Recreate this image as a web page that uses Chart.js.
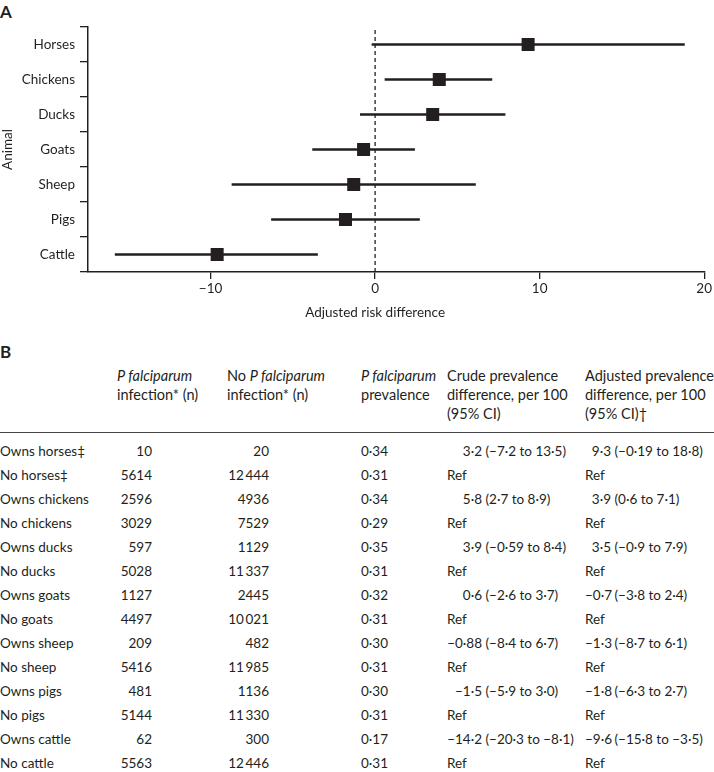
<!DOCTYPE html>
<html>
<head>
<meta charset="utf-8">
<script src="https://cdn.jsdelivr.net/npm/chart.js@4.4.0/dist/chart.umd.min.js"></script>
<style>
body { margin:0; width:714px; height:772px; background:#fff; font-family: Lato, 'Open Sans', sans-serif; color:#231f20; position:relative; overflow:hidden; }
.panel { position:absolute; left:0; font-weight:bold; font-size:17px; line-height:17px; }
#chartBox { position:absolute; left:0; top:0; width:714px; height:325px; }
table { position:absolute; left:0; top:365.5px; border-collapse:collapse; font-size:13.5px; table-layout:fixed; width:714px; }
th { font-weight:normal; font-size:14.5px; text-align:left; vertical-align:top; line-height:19px; padding:0 0 9px 0; border-bottom:1.5px solid #444; white-space:nowrap; }
td { height:24px; line-height:24px; padding:0; white-space:nowrap; }
tbody tr:first-child td { padding-top:6px; }
td.num1 { text-align:right; padding-right:75px; }
td.num2 { text-align:right; padding-right:92px; }
span.est4 { display:inline-block; width:35px; text-align:right; }
span.est5 { display:inline-block; width:26px; text-align:right; }
</style>
</head>
<body>
<div class="panel" style="top:3px;">A</div>
<div id="chartBox"><canvas id="forest" width="714" height="325"></canvas></div>
<div class="panel" style="top:343px;">B</div>
<table id="tbl">
  <colgroup>
    <col style="width:117px"><col style="width:110px"><col style="width:134px">
    <col style="width:86px"><col style="width:138px"><col style="width:129px">
  </colgroup>
  <thead>
    <tr>
      <th></th>
      <th><i>P falciparum</i><br>infection* (n)</th>
      <th>No <i>P falciparum</i><br>infection* (n)</th>
      <th><i>P falciparum</i><br>prevalence</th>
      <th>Crude prevalence<br>difference, per 100<br>(95% CI)</th>
      <th>Adjusted prevalence<br>difference, per 100<br>(95% CI)†</th>
    </tr>
  </thead>
  <tbody id="tableBody"></tbody>
</table>
<script>
// panel A
const animals = ['Horses', 'Chickens', 'Ducks', 'Goats', 'Sheep', 'Pigs', 'Cattle'];
const adjEstimate = [9.3, 3.9, 3.5, -0.7, -1.3, -1.8, -9.6];
const ciLow = [-0.19, 0.6, -0.9, -3.8, -8.7, -6.3, -15.8];
const ciHigh = [18.8, 7.1, 7.9, 2.4, 6.1, 2.7, -3.5];
const xTicks = [-10, 0, 10, 20];
const xMin = -17.45;
const xMax = 20;

// panel B
const rowLabels = ['Owns horses‡', 'No horses‡', 'Owns chickens', 'No chickens', 'Owns ducks', 'No ducks',
  'Owns goats', 'No goats', 'Owns sheep', 'No sheep', 'Owns pigs', 'No pigs', 'Owns cattle', 'No cattle'];
const infected = ['10', '5614', '2596', '3029', '597', '5028', '1127', '4497', '209', '5416', '481', '5144', '62', '5563'];
const notInfected = ['20', '12\u2009444', '4936', '7529', '1129', '11\u2009337', '2445', '10\u2009021', '482', '11\u2009985',
  '1136', '11\u2009330', '300', '12\u2009446'];
const prevalence = ['0·34', '0·31', '0·34', '0·29', '0·35', '0·31', '0·32', '0·31', '0·30', '0·31', '0·30', '0·31', '0·17', '0·31'];
const crude = ['3·2 (−7·2 to 13·5)', 'Ref', '5·8 (2·7 to 8·9)', 'Ref', '3·9 (−0·59 to 8·4)', 'Ref', '0·6 (−2·6 to 3·7)', 'Ref',
  '−0·88 (−8·4 to 6·7)', 'Ref', '−1·5 (−5·9 to 3·0)', 'Ref', '−14·2 (−20·3 to −8·1)', 'Ref'];
const adjusted = ['9·3 (−0·19 to 18·8)', 'Ref', '3·9 (0·6 to 7·1)', 'Ref', '3·5 (−0·9 to 7·9)', 'Ref', '−0·7 (−3·8 to 2·4)', 'Ref',
  '−1·3 (−8·7 to 6·1)', 'Ref', '−1·8 (−6·3 to 2·7)', 'Ref', '−9·6 (−15·8 to −3·5)', 'Ref'];

const INK = '#231f20';
const FONT = { family: "Lato, 'Open Sans', sans-serif", size: 13.5 };

function splitCell(txt, cls){
    if(txt === 'Ref') return txt;
    const cut = txt.indexOf(' ');
    return `<span class="${cls}">${txt.slice(0, cut)}</span>${txt.slice(cut)}`;
}

function buildTable(){
    const tbody = document.getElementById('tableBody');
    rowLabels.forEach((lab, i) => {
        tbody.innerHTML += `
            <tr>
                <td>${lab}</td>
                <td class="num1">${infected[i]}</td>
                <td class="num2">${notInfected[i]}</td>
                <td>${prevalence[i]}</td>
                <td>${splitCell(crude[i], 'est4')}</td>
                <td>${splitCell(adjusted[i], 'est5')}</td>
            </tr>`;
    });
}
buildTable();

const zeroLine = {
    id: 'zeroLine',
    beforeDatasetsDraw(chart){
        const c = chart.ctx;
        const x = chart.scales.x.getPixelForValue(0);
        c.save();
        c.strokeStyle = INK;
        c.lineWidth = 1.3;
        c.setLineDash([4, 3]);
        c.beginPath();
        c.moveTo(x, chart.chartArea.top + 3);
        c.lineTo(x, chart.chartArea.bottom);
        c.stroke();
        c.restore();
    }
};

const xTitle = {
    id: 'xTitle',
    afterDraw(chart){
        const c = chart.ctx;
        const xs = chart.scales.x;
        c.save();
        c.fillStyle = INK;
        c.font = `${FONT.size}px ${FONT.family}`;
        c.textAlign = 'center';
        c.textBaseline = 'middle';
        c.fillText('Adjusted risk difference', xs.getPixelForValue(0), xs.bottom - 12);
        c.restore();
    }
};

new Chart(document.getElementById('forest'), {
    type: 'bar',
    data: {
        labels: animals,
        datasets: [
            {
                type: 'line',
                indexAxis: 'y',
                data: adjEstimate,
                showLine: false,
                pointStyle: 'rect',
                pointRadius: 9.2,
                pointHoverRadius: 9.2,
                pointBackgroundColor: INK,
                pointBorderWidth: 0,
                order: 0
            },
            {
                type: 'bar',
                indexAxis: 'y',
                data: animals.map((a, i) => [ciLow[i], ciHigh[i]]),
                backgroundColor: INK,
                barThickness: 1.6,
                order: 1
            }
        ]
    },
    plugins: [zeroLine, xTitle],
    options: {
        indexAxis: 'y',
        responsive: false,
        animation: false,
        layout: { padding: { top: 27, right: 8, left: 0, bottom: 0 } },
        plugins: { legend: { display: false }, tooltip: { enabled: false } },
        scales: {
            x: {
                type: 'linear',
                position: 'bottom',
                min: xMin,
                max: xMax,
                afterBuildTicks: s => { s.ticks = xTicks.map(v => ({ value: v })); },
                afterFit: s => { s.height = 53; },
                grid: { drawOnChartArea: false, tickLength: 7, color: INK, lineWidth: 1.3 },
                border: { color: INK, width: 1.5 },
                ticks: { color: INK, font: FONT, padding: 2, callback: v => String(v).replace('-', '\u2212') }
            },
            y: {
                type: 'category',
                position: 'left',
                offset: true,
                afterFit: s => { s.width = 88; },
                grid: { offset: true, drawOnChartArea: false, tickLength: 8, color: INK, lineWidth: 1.3 },
                border: { color: INK, width: 1.5 },
                ticks: { color: INK, font: FONT, padding: 5 },
                title: { display: true, text: 'Animal', color: INK, font: FONT, padding: 0 }
            }
        }
    }
});
</script>
</body>
</html>
